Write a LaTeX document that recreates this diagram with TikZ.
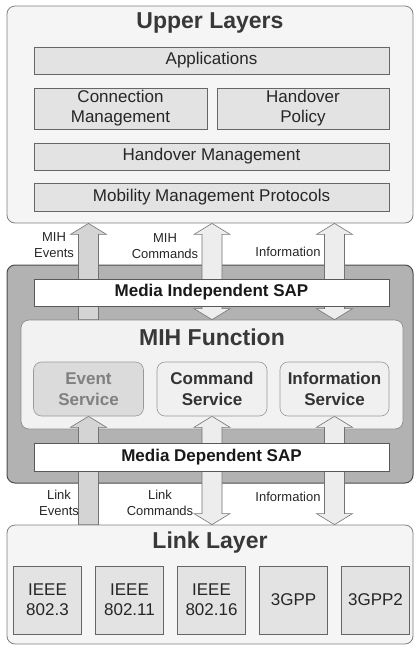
\documentclass[tikz,border=0pt]{standalone}
\usepackage{fontspec}
\setmainfont{Liberation Sans}
\usetikzlibrary{calc}
\pgfdeclarelayer{bg}
\pgfdeclarelayer{arr}
\pgfsetlayers{bg,arr,main}
\newcommand\uparr[3]{%
  \path[arrowbox,fill=#3] let \p1=#1, \p2=#2 in
  (\x1-10pt,\y2) -- (\x1-10pt,\y1-11pt) -- (\x1-18pt,\y1-11pt) -- (\x1,\y1)
  -- (\x1+18pt,\y1-11pt) -- (\x1+10pt,\y1-11pt) -- (\x1+10pt,\y2) -- cycle;}
\newcommand\dblarr[3]{%
  \path[arrowbox,fill=#3] let \p1=#1, \p2=#2 in
  (\x1,\y1) -- (\x1+18pt,\y1-11pt) -- (\x1+10pt,\y1-11pt) -- (\x1+10pt,\y2+11pt)
  -- (\x1+18pt,\y2+11pt) -- (\x1,\y2) -- (\x1-18pt,\y2+11pt) -- (\x1-10pt,\y2+11pt)
  -- (\x1-10pt,\y1-11pt) -- (\x1-18pt,\y1-11pt) -- cycle;}
\begin{document}
\begin{tikzpicture}[x=1pt,y=-1pt,
  layerbox/.style={draw=black!50, fill=black!4, rounded corners=8pt, line width=0.8pt, minimum width=406pt, inner sep=0pt},
  darkbox/.style={draw=black!70, fill=black!30, rounded corners=8pt, line width=1pt, minimum width=406pt, inner sep=0pt},
  funcbox/.style={draw=black!45, fill=black!5, rounded corners=8pt, line width=0.7pt, inner sep=0pt},
  sub/.style={draw=black!60, fill=black!11, line width=0.6pt, inner sep=0pt, align=center,
    font=\fontsize{17}{20}\selectfont, text=black!85},
  sap/.style={draw=black!65, fill=white, line width=0.7pt, inner sep=0pt, minimum width=355pt,
    font=\bfseries\fontsize{17}{20}\selectfont, text=black!90},
  svc/.style={draw=black!40, fill=black!6, rounded corners=8pt, line width=0.6pt, inner sep=0pt,
    minimum width=110pt, minimum height=54pt, align=center,
    font=\bfseries\fontsize{17}{20.5}\selectfont, text=black!80},
  ttl/.style={font=\bfseries\fontsize{23}{26}\selectfont, text=black!78, inner sep=0pt},
  lbl/.style={font=\fontsize{13}{16}\selectfont, align=center, text=black!85, inner sep=0pt},
  arrowbox/.style={draw=black!55, line width=0.6pt},
  evfill/.style={},
]
\useasboundingbox (0,0) rectangle (414,646);
\begin{pgfonlayer}{bg}
  \node[layerbox, minimum height=217pt] (upper) at (210,114.5) {};
  \node[layerbox, minimum height=119pt] (link) at (210,584.5) {};
  \node[darkbox, minimum height=218pt] (mid) at (210,374) {};
  \node[funcbox, minimum width=382pt, minimum height=109pt] (mihf) at (212,374.5) {};
\end{pgfonlayer}
% titles
\node[ttl] (tup) at (210,23) {Upper Layers};
\node[ttl] (tmihf) at (212,337) {MIH Function};
\node[ttl] (tlink) at (210,543) {Link Layer};
% upper layer contents
\node[sub, minimum width=355pt, minimum height=27pt] (app) at (211.5,60.5) {Applications};
\node[sub, minimum width=173pt, minimum height=41pt] (conn) at (120.5,108.5) {Connection\\Management};
\node[sub, minimum width=172pt, minimum height=41pt] (hpol) at (303,108.5) {Handover\\Policy};
\node[sub, minimum width=355pt, minimum height=27pt] (hmgmt) at (211.5,156.5) {Handover Management};
\node[sub, minimum width=355pt, minimum height=28pt] (mmp) at (211.5,197) {Mobility Management Protocols};
% SAPs
\node[sap, minimum height=27pt] (misap) at (211.5,292.5) {Media Independent SAP};
\node[sap, minimum height=28pt] (mdsap) at (211.5,457) {Media Dependent SAP};
% services
\node[svc, fill=black!14, text=black!50] (evt) at (88.5,389) {Event\\Service};
\node[svc] (cmd) at (212,389) {Command\\Service};
\node[svc, minimum width=109pt] (info) at (334.5,389) {Information\\Service};
% link layer technologies
\foreach \i/\t [count=\k from 0] in {a/{IEEE\\802.3}, b/{IEEE\\802.11}, c/{IEEE\\802.16}, d/{3GPP}, e/{3GPP2}}
  \node[sub, minimum width=68pt, minimum height=68pt] (tech\i) at (47.5+82*\k,600) {\t};
% arrows
\begin{pgfonlayer}{arr}
  \uparr{(upper.south -| evt.north)}{(mihf.north -| evt.north)}{black!17}
  \dblarr{(upper.south -| cmd.north)}{(mihf.north -| cmd.north)}{black!7}
  \dblarr{(upper.south -| info.north)}{(mihf.north -| info.north)}{black!7}
  \uparr{(evt.south)}{(link.north -| evt.south)}{black!17}
  \dblarr{(cmd.south)}{(link.north -| cmd.south)}{black!7}
  \dblarr{(info.south)}{(link.north -| info.south)}{black!7}
\end{pgfonlayer}
% arrow labels
\node[lbl] (l1) at (54,245) {MIH\\Events};
\node[lbl] (l2) at (165,246) {MIH\\Commands};
\node[lbl] (l3) at (288,252) {Information};
\node[lbl] (l4) at (59,503) {Link\\Events};
\node[lbl] (l5) at (160,503) {Link\\Commands};
\node[lbl] (l6) at (288,497) {Information};
\end{tikzpicture}
\end{document}
